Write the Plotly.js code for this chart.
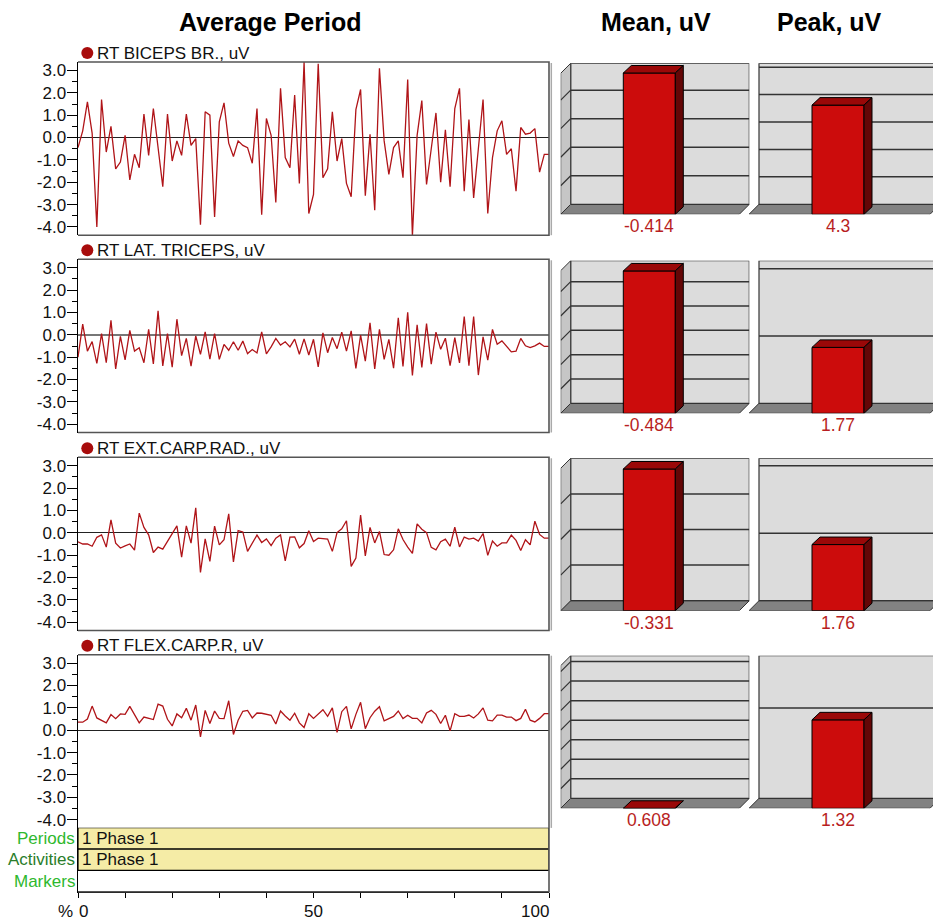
<!DOCTYPE html>
<html><head><meta charset="utf-8">
<script src="https://cdn.plot.ly/plotly-3.0.1.min.js"></script>
<style>html,body{margin:0;padding:0;background:#fff}#chart{width:933px;height:920px}</style>
</head><body><div id="chart"></div>
<script>
// ---------------- DATA ----------------
const pct = [0,1,2,3,4,5,6,7,8,9,10,11,12,13,14,15,16,17,18,19,20,21,22,23,24,25,26,27,28,29,30,31,32,33,34,35,36,37,38,39,40,41,42,43,44,45,46,47,48,49,50,51,52,53,54,55,56,57,58,59,60,61,62,63,64,65,66,67,68,69,70,71,72,73,74,75,76,77,78,79,80,81,82,83,84,85,86,87,88,89,90,91,92,93,94,95,96,97,98,99,100];
const channelNames = ["RT BICEPS BR., uV", "RT LAT. TRICEPS, uV", "RT EXT.CARP.RAD., uV", "RT FLEX.CARP.R, uV"];
const bicepsBr = [-0.45,0.3,1.6,0.2,-4.0,1.7,-0.65,0.5,-1.4,-1.1,0.1,-1.9,-0.75,-1.35,1.05,-0.8,1.3,-0.5,-2.2,1.05,-1.05,-0.15,-0.8,1.05,-0.35,-0.05,-3.9,1.15,1.0,-3.55,0.7,1.55,-0.25,-0.85,-0.15,-0.35,-0.45,-1.15,1.3,-3.45,0.85,0.1,-2.9,2.2,-0.9,-1.35,1.9,-2.05,
  3.38,-3.4,-2.55,3.3,-1.8,-1.4,1.15,-1.05,-0.05,-2.05,-2.65,1.25,2.15,-2.6,0.15,-3.25,3.1,-0.15,-1.65,-0.45,-0.15,-1.8,2.6,-4.4,0.1,1.65,-2.1,-0.5,1.1,-2.0,0.35,-2.2,1.3,2.2,-2.4,0.8,-2.7,-0.5,1.7,-3.4,-0.9,0.3,0.75,-0.75,-0.5,-2.4,0.45,0.15,0.2,0.4,-1.55,-0.75,-0.75];
const latTriceps = [-1.0,0.48,-0.73,-0.3,-1.28,0.05,-1.25,0.65,-1.53,-0.07,-1.12,0.2,-0.73,-0.58,-1.25,0.25,-1.3,1.07,-1.39,0.06,-1.45,0.7,-0.93,-0.16,-1.4,-0.05,-0.87,0.13,-1.09,0.06,-1.1,-0.43,-0.69,-0.31,-0.69,-0.28,-0.84,-0.66,-0.81,0.13,-0.85,-0.54,-0.16,-0.46,-0.31,-0.54,-0.19,-0.87,-0.18,-0.9,-0.2,
  -1.43,0.09,-0.8,-0.12,-0.62,0.12,-0.73,0.18,-1.5,-0.01,-1.18,0.54,-1.53,0.25,-1.1,-0.2,-1.49,0.76,-1.41,1.01,-1.82,0.45,-1.46,0.5,-1.31,0.12,-0.65,-0.15,-1.38,-0.12,-1.26,0.82,-1.38,0.82,-1.8,-0.09,-1.13,0.24,-0.42,-0.27,-0.51,-0.76,-0.73,-0.16,-0.49,-0.57,-0.49,-0.37,-0.52,-0.52];
const extCarpRad = [-0.4,-0.5,-0.5,-0.6,-0.2,-0.09,-0.64,0.58,-0.46,-0.68,-0.58,-0.5,-0.77,0.88,0.24,-0.09,-0.88,-0.64,-0.73,-0.39,-0.09,0.31,-1.09,0.31,-0.46,1.12,-1.77,-0.27,-1.28,0.3,-0.54,-0.31,0.85,-1.3,0.1,0.04,-0.83,-0.46,-0.1,-0.43,-0.27,-0.57,-0.24,-0.09,-1.25,-0.19,-0.18,-0.67,-0.48,0.09,-0.39,
  -0.24,-0.27,-0.28,-0.83,0.01,0.18,0.54,-1.5,-1.13,0.79,-1.03,0.24,-0.45,0.06,-0.97,-1.0,-0.76,0.18,-0.3,-0.64,-0.92,0.4,0.16,0.01,-0.65,-0.76,-0.4,-0.28,-0.6,0.25,-0.63,-0.19,-0.28,-0.24,-0.37,-0.03,-1.01,-0.37,-0.6,-0.45,-0.45,-0.1,-0.34,-0.79,-0.31,-0.54,0.52,-0.07,-0.24,-0.24];
const flexCarpR = [0.36,0.36,0.5,1.08,0.55,0.45,0.33,0.7,0.52,0.73,0.71,1.07,0.67,0.33,0.59,0.52,0.48,1.17,1.08,0.49,0.19,0.73,0.56,0.98,0.45,1.13,-0.3,0.89,0.3,0.86,0.53,0.52,1.32,-0.19,0.45,0.85,0.89,0.55,0.77,0.76,0.7,0.67,0.28,0.86,0.64,0.45,0.76,0.33,
  0.12,0.74,0.53,0.71,0.92,0.62,1.0,-0.1,0.83,1.07,0.06,0.71,1.25,0.07,0.56,0.85,1.05,0.42,0.53,0.62,0.86,0.52,0.67,0.53,0.53,0.33,0.77,0.89,0.71,0.3,0.67,-0.03,0.74,0.62,0.62,0.68,0.55,0.73,1.0,0.45,0.42,0.68,0.68,0.59,0.59,0.43,0.53,0.94,0.45,0.37,0.53,0.74,0.74];
const yTickVals = [3,2,1,0,-1,-2,-3,-4];
const yTickLabels = ["3.0","2.0","1.0","0.0","-1.0","-2.0","-3.0","-4.0"];
const yMinorVals = [2.5,1.5,0.5,-0.5,-1.5,-2.5,-3.5];
const xTickVals = [0,10,20,30,40,50,60,70,80,90,100];
const xLabelVals = [0,50,100];
const xLabelText = ["0","50","100"];
const meanLabels = ["-0.414","-0.484","-0.331","0.608"];
const peakLabels = ["4.3","1.77","1.76","1.32"];
const meanBars = [4.95, 5.85, 3.98, 0];
const peakBars = [3.98, 0.98, 0.98, 0.98];
const meanScaleMax = [4.94, 5.86, 4.0, 7.3];
const peakScaleMax = [5.14, 2.12, 2.11, 1.58];
const bandNames = ["Periods","Activities","Markers"];
const bandText = ["1 Phase 1","1 Phase 1",""];
const columnTitles = ["Average Period","Mean, uV","Peak, uV"];

// ---------------- LAYOUT ----------------
const W=933,H=920;
const PX = x => x/W, PY = y => 1 - y/H;
const FONT = 'Liberation Sans, Arial, sans-serif';
const FS = 17;
const lineColor = '#b01418';
const panelTop = [62, 259.3, 457.3, 654.7];
const panelH = 173.2;
const yRange = [-4.37, 3.38];
const plotL = 78, plotR = 549;
const series = [bicepsBr, latTriceps, extCarpRad, flexCarpR];

const data=[], shapes=[], annotations=[];
const layout = {width:W,height:H,margin:{l:0,r:0,t:0,b:0},paper_bgcolor:'#fff',plot_bgcolor:'rgba(0,0,0,0)',
  showlegend:false,font:{family:FONT,size:FS,color:'#000'},shapes,annotations};

series.forEach((vals,i)=>{
  const n=i+1, sfx = n===1?'':String(n);
  const top=panelTop[i], bot=top+panelH;
  layout['xaxis'+sfx] = {domain:[PX(plotL),PX(plotR)], range:[0,100], anchor:'y'+sfx, showticklabels:false, ticks:'',
    showline:false, zeroline:false, showgrid:false, fixedrange:true};
  layout['yaxis'+sfx] = {domain:[PY(bot),PY(top)], range:yRange, anchor:'x'+sfx, tickmode:'array', tickvals:yTickVals, ticktext:yTickLabels,
    ticks:'outside', ticklen:10, tickwidth:1, tickcolor:'#000', showline:true, linecolor:'#000', linewidth:1.5, showgrid:false,
    ticklabelstandoff:-3,
    zeroline:true, zerolinecolor: i===1?'#777':'#222', zerolinewidth: i===1?2:1.2, tickfont:{size:FS,color:'#111'},
    minor:{tickmode:'array', tickvals:yMinorVals, ticks:'outside', ticklen:5, tickwidth:1, tickcolor:'#000', showgrid:false}, fixedrange:true};
  data.push({type:'scatter', mode:'lines', x:pct, y:vals, xaxis:'x'+sfx, yaxis:'y'+sfx, line:{color:lineColor,width:1.3}, hoverinfo:'skip'});
  const bb = i===3 ? 891.7 : bot;
  shapes.push({type:'path', xref:'paper', yref:'paper', layer:'above',
    path:`M${PX(plotL)},${PY(top)} L${PX(plotR)},${PY(top)} L${PX(plotR)},${PY(bb)} L${PX(plotL)},${PY(bb)}`,
    line:{color:'#555',width:1.6}});
  shapes.push({type:'circle', xref:'paper', yref:'paper', x0:PX(81.3), x1:PX(93.3), y0:PY(top-3), y1:PY(top-15), fillcolor:'#a80c0c', line:{width:0}});
  annotations.push({xref:'paper',yref:'paper',x:PX(95),y:PY(top-9),xanchor:'left',yanchor:'middle',text:channelNames[i],showarrow:false,font:{size:FS,color:'#111'}});
  shapes.push({type:'line', xref:'paper', yref:'paper', x0:PX(551.3), x1:PX(551.3), y0:PY(bot), y1:PY(top+1), line:{color:'#aaa', width:1.5}});
});

// bands (periods / activities / markers) with the % axis
layout.xaxis5 = {domain:[PX(plotL),PX(plotR)], range:[0,100], anchor:'y5', tickmode:'array', tickvals:xTickVals, ticks:'outside', ticklen:5,
  tickcolor:'#000', showticklabels:false, showline:true, linecolor:'#000', linewidth:1.5, showgrid:false, zeroline:false, fixedrange:true};
layout.yaxis5 = {domain:[PY(891.7), PY(827.7)], range:[0,3], anchor:'x5', showline:true, linecolor:'#000', linewidth:1.5, ticks:'',
  showticklabels:false, showgrid:false, zeroline:false, fixedrange:true};
data.push({type:'scatter', mode:'lines', x:[], y:[], xaxis:'x5', yaxis:'y5', hoverinfo:'skip'});
const bandColors = ['#2eb82e','#2a7d2a','#2eb82e'];
bandNames.forEach((nm,k)=>{
  const y1 = 3-k, y0 = 2-k;
  if (bandText[k]) {
    shapes.push({type:'rect', xref:'x5', yref:'y5', x0:0, x1:100, y0:y0, y1:y1, fillcolor:'#f5eca6', line:{color:'#000',width:1.2}, layer:'below'});
    annotations.push({xref:'paper', yref:'y5', x:PX(79.5), y:(y0+y1)/2, xanchor:'left', yanchor:'middle', text:bandText[k], showarrow:false, font:{size:FS,color:'#111'}});
  }
  annotations.push({xref:'paper', yref:'y5', x:PX(77), y:(y0+y1)/2, xanchor:'right', yanchor:'middle', text:nm, showarrow:false, font:{size:FS,color:bandColors[k]}});
});
const xAnch = ['left','center','right'];
xLabelVals.forEach((v,k)=>{
  annotations.push({xref:'x5', yref:'paper', x:v, y:PY(911), xanchor:xAnch[k], yanchor:'middle', text:xLabelText[k], showarrow:false, font:{size:FS,color:'#111'}, xshift: k===0?-1:(k===2?2:0)});
});
annotations.push({xref:'paper', yref:'paper', x:PX(75), y:PY(911), xanchor:'right', yanchor:'middle', text:'%', showarrow:false, font:{size:FS,color:'#111'}});

// column titles
[270, 656, 829].forEach((cx,k)=>{
  annotations.push({xref:'paper', yref:'paper', x:PX(cx), y:PY(22), xanchor:'center', yanchor:'middle', text:'<b>'+columnTitles[k]+'</b>', showarrow:false, font:{size:25,color:'#000'}});
});

// 3D bar cells
const cellCols = [
  {xl:560.7, xr:749.3, bc:649.3, wall:true,  bars:meanBars, max:meanScaleMax, labels:meanLabels},
  {xl:749,   xr:940,   bc:838,   wall:false, bars:peakBars, max:peakScaleMax, labels:peakLabels}];
const floorPx=[214.3,413.3,610.7,808.3], wallTopPx=[63.3,260.7,458.3,655.7];
const BW=52, dxW=10, dyW=10, dxB=8, dyB=7.5;
let ax=6;
cellCols.forEach(col=>{
  for(let r=0;r<4;r++){
    const F=floorPx[r], T=wallTopPx[r];
    const u=(F-dyW-T)/col.max[r];
    const yTop=(F-T)/u;
    const xrDom=Math.min(col.xr, W);
    const xs='x'+ax, ys='y'+ax;
    layout['xaxis'+ax]={domain:[PX(col.xl),PX(xrDom)], range:[(col.xl-col.bc)/BW,(xrDom-col.bc)/BW], anchor:ys, visible:false, fixedrange:true};
    layout['yaxis'+ax]={domain:[PY(F),PY(T)], range:[0,yTop], anchor:xs, visible:false, fixedrange:true};
    const xL=(col.xl-col.bc)/BW, xR=(col.xr-col.bc)/BW, dxw=dxW/BW, dyw=dyW/u;
    shapes.push({type:'path', xref:xs, yref:ys, layer:'below', path:`M${xL},0 L${xL+dxw},${dyw} L${xR},${dyw} L${xR-dxw},0 Z`,
      fillcolor:'#828282', line:{color:'#333',width:1}});
    shapes.push({type:'rect', xref:xs, yref:ys, layer:'below', x0:xL+dxw, x1:xR, y0:dyw, y1:yTop, fillcolor:'#dcdcdc', line:{color:'#333',width:1.2}});
    if(col.wall) shapes.push({type:'path', xref:xs, yref:ys, layer:'below',
      path:`M${xL},0 L${xL+dxw},${dyw} L${xL+dxw},${yTop} L${xL},${yTop-dyw} Z`, fillcolor:'#c6c6c6', line:{color:'#333',width:1}});
    for(let k=1;k<=col.max[r]-0.05;k++){
      shapes.push({type:'line', xref:xs, yref:ys, layer:'below', x0:xL+dxw, x1:xR, y0:dyw+k, y1:dyw+k, line:{color:'#333',width:1.5}});
      if(col.wall) shapes.push({type:'line', xref:xs, yref:ys, layer:'below', x0:xL, y0:k, x1:xL+dxw, y1:dyw+k, line:{color:'#333',width:1.2}});
    }
    const v=col.bars[r], bdx=dxB/BW, bdy=dyB/u;
    data.push({type:'bar', x:[0], y:[v], width:[1], xaxis:xs, yaxis:ys, marker:{color:'#cc0c0c', line:{color:'#000', width:1}}, hoverinfo:'skip'});
    data.push({type:'scatter', mode:'lines', x:[-0.5,0.5,0.5+bdx,-0.5+bdx,-0.5], y:[v,v,v+bdy,v+bdy,v], fill:'toself', fillcolor:'#9a0808',
      line:{color:'#000',width:1}, xaxis:xs, yaxis:ys, hoverinfo:'skip'});
    data.push({type:'scatter', mode:'lines', x:[0.5,0.5+bdx,0.5+bdx,0.5,0.5], y:[0,bdy,v+bdy,v,0], fill:'toself', fillcolor:'#640606',
      line:{color:'#000',width:1}, xaxis:xs, yaxis:ys, hoverinfo:'skip'});
    annotations.push({xref:xs, yref:'paper', x:0, y:PY(F+12), xanchor:'center', yanchor:'middle', text:col.labels[r], showarrow:false, font:{size:17.5,color:'#b81e22'}});
    ax++;
  }
});

Plotly.newPlot('chart', data, layout, {displayModeBar:false, staticPlot:true});
</script>
</body></html>
